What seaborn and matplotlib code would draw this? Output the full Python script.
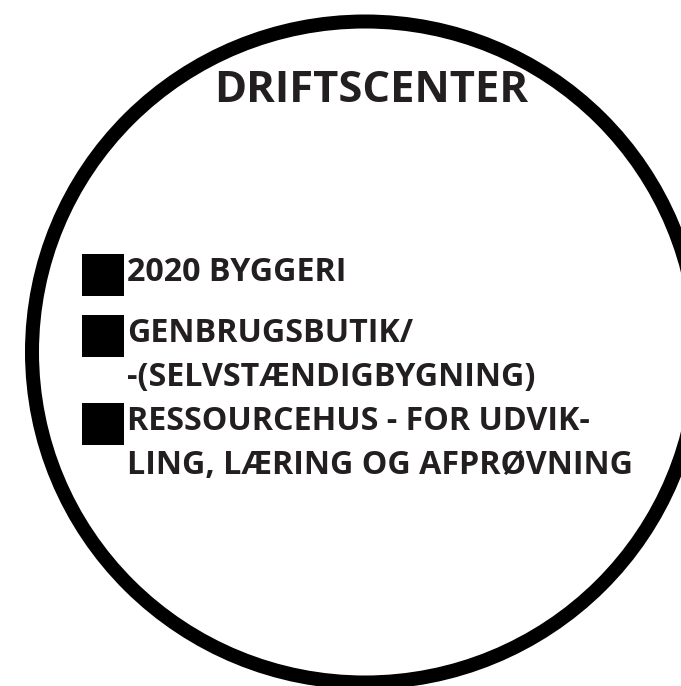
import matplotlib
matplotlib.use("Agg")
import matplotlib.pyplot as plt
from matplotlib.patches import Ellipse, Rectangle
import seaborn as sns

# tekst i diagrammet
titel = "DRIFTSCENTER"
punkter = [
    ["2020 BYGGERI"],
    ["GENBRUGSBUTIK/", "-(SELVSTÆNDIGBYGNING)"],
    ["RESSOURCEHUS - FOR UDVIK-", "LING, LÆRING OG AFPRØVNING"],
]

sns.set_theme(style="white")
plt.rcParams['font.family'] = ['Open Sans', 'DejaVu Sans']

W, H = 681, 686
fig = plt.figure(figsize=(W / 100, H / 100), dpi=100)
ax = fig.add_axes([0, 0, 1, 1])
ax.set_xlim(0, W)
ax.set_ylim(H, 0)
ax.axis('off')

tekstfarve = '#231f20'
px = 72 / 100  # pixel -> punkt

# cirklen
ax.add_patch(Ellipse((365, 352), 666, 661, fill=False, edgecolor='black', lw=14 * px))

# titel
ax.text(371, 102, titel, ha='center', va='baseline', fontsize=43.5 * px,
        fontweight='bold', color=tekstfarve)

# punktliste
baselines = [[281], [342, 386], [430, 474]]
for linjer, ys in zip(punkter, baselines):
    ax.add_patch(Rectangle((82, ys[0] - 27), 42, 42, color='black', lw=0))
    for linje, y in zip(linjer, ys):
        ax.text(127, y, linje, ha='left', va='baseline', fontsize=32.3 * px,
                fontweight='bold', color=tekstfarve)

fig.savefig('out.png', dpi=100, facecolor='white')
